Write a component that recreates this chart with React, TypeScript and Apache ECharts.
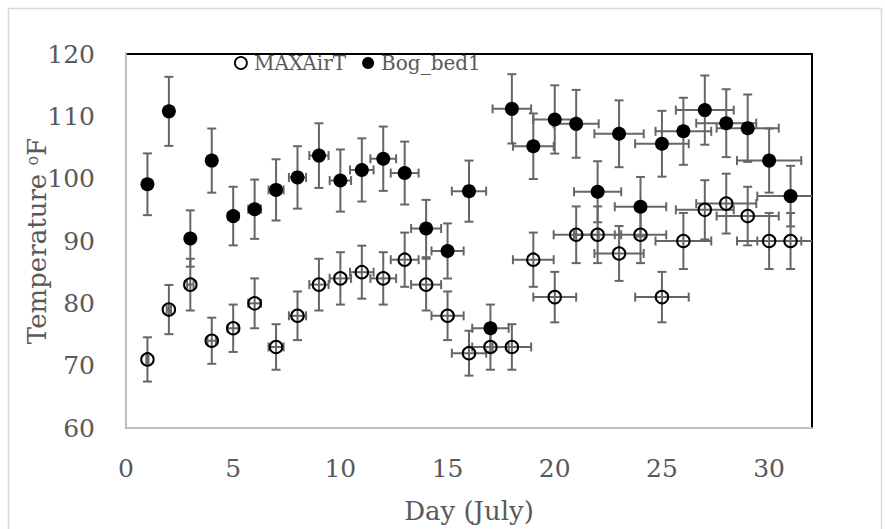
import React, { useEffect, useRef } from "react";
import * as echarts from "echarts";

const days = [1,2,3,4,5,6,7,8,9,10,11,12,13,14,15,16,17,18,19,20,21,22,23,24,25,26,27,28,29,30,31];
const maxAirT = [71,79,83,74,76,80,73,78,83,84,85,84,87,83,78,72,73,73,87,81,91,91,88,91,81,90,95,96,94,90,90];
const bogBed1 = [99.1,110.8,90.4,102.9,94.0,95.1,98.2,100.2,103.7,99.7,101.4,103.2,100.9,92.0,88.4,98.0,76.0,111.2,105.2,109.5,108.8,97.9,107.2,95.5,105.6,107.6,111.0,108.9,108.1,102.9,97.2];
// Excel percentage error bars (5%) on both x and y
const ERROR_PCT = 0.05;
const xTicks = [0, 5, 10, 15, 20, 25, 30];
const yTicks = [60, 70, 80, 90, 100, 110, 120];

const FONT = "DejaVu Serif";
const TEXT = "#595959";
const ERR = "#666666";

function errorRender(params: any, api: any) {
  const x = api.value(0);
  const y = api.value(1);
  const ex = x * ERROR_PCT;
  const ey = y * ERROR_PCT;
  const top = api.coord([x, y + ey]);
  const bot = api.coord([x, y - ey]);
  const lft = api.coord([x - ex, y]);
  const rgt = api.coord([x + ex, y]);
  const cap = 4.5;
  const style = { stroke: ERR, lineWidth: 2, fill: null };
  const mk = (x1: number, y1: number, x2: number, y2: number) => ({
    type: "line",
    shape: { x1, y1, x2, y2 },
    style,
  });
  return {
    type: "group",
    children: [
      mk(top[0], top[1], bot[0], bot[1]),
      mk(top[0] - cap, top[1], top[0] + cap, top[1]),
      mk(bot[0] - cap, bot[1], bot[0] + cap, bot[1]),
      mk(lft[0], lft[1], rgt[0], rgt[1]),
      mk(lft[0], lft[1] - cap, lft[0], lft[1] + cap),
      mk(rgt[0], rgt[1] - cap, rgt[0], rgt[1] + cap),
    ],
  };
}

export default function App() {
  const ref = useRef<HTMLDivElement>(null);
  useEffect(() => {
    if (!ref.current) return;
    const chart = echarts.init(ref.current, null, { renderer: "svg" });
    const maxData = days.map((d, i) => [d, maxAirT[i]]);
    const bogData = days.map((d, i) => [d, bogBed1[i]]);
    chart.setOption({
      animation: false,
      backgroundColor: "#fff",
      textStyle: { fontFamily: FONT },
      graphic: [
        {
          type: "rect",
          shape: { x: 8.5, y: 8.5, width: 873, height: 530 },
          style: { fill: "none", stroke: "#d9d9d9", lineWidth: 1.5 },
          silent: true,
        },
      ],
      grid: {
        left: 126,
        top: 54,
        right: 73,
        bottom: 99,
        show: true,
        borderColor: "#000",
        borderWidth: 2,
        backgroundColor: "transparent",
      },
      legend: {
        left: 234,
        top: 53,
        padding: 0,
        itemWidth: 12,
        itemHeight: 12,
        itemGap: 16,
        textStyle: { fontFamily: FONT, fontSize: 20, color: TEXT, padding: [0, 0, 0, 2] },
        data: [
          { name: "MAXAirT", icon: "circle", itemStyle: { color: "#fff", borderColor: "#000", borderWidth: 1.8 } },
          { name: "Bog_bed1", icon: "circle", itemStyle: { color: "#000" } },
        ],
      },
      xAxis: {
        type: "value",
        min: 0,
        max: 32,
        interval: 5,
        name: "Day (July)",
        nameLocation: "middle",
        nameGap: 70,
        nameMoveOverlap: false,
        nameTextStyle: { fontFamily: FONT, fontSize: 26, color: TEXT },
        axisLine: { show: true, lineStyle: { color: "#bfbfbf", width: 2 } },
        axisTick: { show: false },
        splitLine: { show: false },
        axisLabel: {
          fontFamily: FONT,
          fontSize: 25,
          color: TEXT,
          margin: 28,
          showMaxLabel: false,
          formatter: (v: number) => (xTicks.includes(v) ? String(v) : ""),
        },
      },
      yAxis: {
        type: "value",
        min: 60,
        max: 120,
        interval: 10,
        name: "Temperature {sup|o}F",
        nameLocation: "middle",
        nameGap: 76,
        nameMoveOverlap: false,
        nameTextStyle: {
          fontFamily: FONT,
          fontSize: 26,
          color: TEXT,
          rich: {
            sup: { fontFamily: FONT, fontSize: 16, color: TEXT, verticalAlign: "top", padding: [0, 0, 10, 0] },
          },
        },
        axisLine: { show: true, lineStyle: { color: "#bfbfbf", width: 2 } },
        axisTick: { show: false },
        splitLine: { show: false },
        axisLabel: {
          fontFamily: FONT,
          fontSize: 25,
          color: TEXT,
          margin: 31,
          formatter: (v: number) => (yTicks.includes(v) ? String(v) : ""),
        },
      },
      series: [
        {
          type: "custom",
          name: "errMAX",
          renderItem: errorRender,
          data: maxData,
          encode: { x: 0, y: 1 },
          clip: true,
          z: 2,
          silent: true,
        },
        {
          type: "custom",
          name: "errBog",
          renderItem: errorRender,
          data: bogData,
          encode: { x: 0, y: 1 },
          clip: true,
          z: 2,
          silent: true,
        },
        {
          type: "scatter",
          name: "MAXAirT",
          data: maxData,
          symbol: "circle",
          symbolSize: 12.5,
          itemStyle: { color: "transparent", borderColor: "#000", borderWidth: 2, opacity: 1 },
          z: 3,
        },
        {
          type: "scatter",
          name: "Bog_bed1",
          data: bogData,
          symbol: "circle",
          symbolSize: 14,
          itemStyle: { color: "#000", opacity: 1 },
          z: 4,
        },
      ],
    });
    return () => chart.dispose();
  }, []);
  return (
    <div
      ref={ref}
      style={{ position: "absolute", left: 0, top: 0, width: 885, height: 529 }}
    />
  );
}
